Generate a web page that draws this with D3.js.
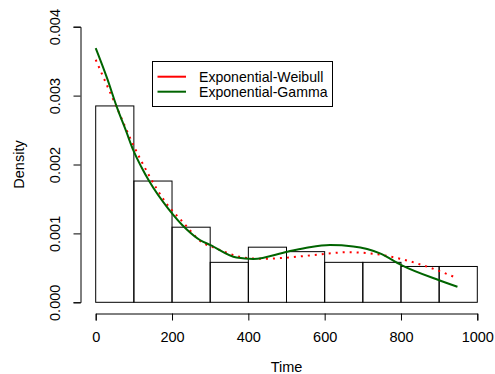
<!DOCTYPE html>
<html><head><meta charset="utf-8">
<script src="https://cdn.jsdelivr.net/npm/d3@7"></script>
<style>body{margin:0;background:#fff}svg{display:block}text{font-family:"Liberation Sans",Arial,sans-serif;fill:#000}</style>
</head><body><svg id="c" width="495" height="374"></svg>
<script>
const binEdges = [0,100,200,300,400,500,600,700,800,900,1000];
const binDensity = [0.00285,0.00176,0.00109,0.00058,0.00080,0.000735,0.00058,0.00058,0.00052,0.00052];
const xTicks = [0,200,400,600,800,1000];
const yTicks = [0.000,0.001,0.002,0.003,0.004];
const seriesNames = ["Exponential-Weibull","Exponential-Gamma"];
const seriesColors = ["#ff0000","#006400"];
// Exponential-Weibull (dotted red)
const ewTime = [0,55,99,138,182,230,273,321,378,439,500,579,658,719,797,876,946];
const ewDens = [0.00352,0.00283,0.00228,0.00186,0.00146,0.001155,0.000894,0.00077,0.00066,0.00063,0.000648,0.00069,0.000726,0.00071,0.000633,0.000503,0.000353];
// Exponential-Gamma (solid green)
const egTime = [0,30,55,80,99,120,140,190,238,273,301,369,413,502,560,614,675,745,801,900,948];
const egDens = [0.00369,0.00325,0.00284,0.00248,0.00220,0.00196,0.00176,0.00136,0.00106,0.000904,0.00083,0.00065,0.00063,0.000735,0.0008,0.00083,0.00081,0.00071,0.00054,0.00032,0.000226];

const FS = 14.5;
const svg = d3.select("#c");
const x = d3.scaleLinear().domain([0,1000]).range([95.7,477.3]);
const y = d3.scaleLinear().domain([0,0.004]).range([302.3,26.7]);

// histogram
svg.append("g").selectAll("rect").data(binDensity).join("rect")
  .attr("x",(d,i)=>x(binEdges[i])).attr("width",(d,i)=>x(binEdges[i+1])-x(binEdges[i]))
  .attr("y",d=>y(d)).attr("height",d=>y(0)-y(d))
  .attr("fill","none").attr("stroke","#000").attr("stroke-width",1);

const line = d3.line().curve(d3.curveMonotoneX);
svg.append("path").attr("d",line(ewTime.map((t,i)=>[x(t),y(ewDens[i])])))
  .attr("fill","none").attr("stroke",seriesColors[0]).attr("stroke-width",2).attr("stroke-dasharray","2 5");
svg.append("path").attr("d",line(egTime.map((t,i)=>[x(t),y(egDens[i])])))
  .attr("fill","none").attr("stroke",seriesColors[1]).attr("stroke-width",2);

// axes
const xAxis = svg.append("g").attr("transform","translate(0,313.5)")
  .call(d3.axisBottom(x).tickValues(xTicks).tickSize(7).tickPadding(0).tickFormat(d3.format("d")));
const yAxis = svg.append("g").attr("transform","translate(80.5,0)")
  .call(d3.axisLeft(y).tickValues(yTicks).tickSize(7).tickPadding(0).tickFormat(d3.format(".3f")));
[xAxis,yAxis].forEach(a=>{a.select(".domain").attr("stroke","#000");a.selectAll(".tick line").attr("stroke","#000");
  a.selectAll("text").attr("font-size",FS).attr("font-family","Liberation Sans, Arial, sans-serif").attr("fill","#000");});
xAxis.selectAll(".tick text").attr("y",28).attr("dy","0");
yAxis.selectAll(".tick text").each(function(){
  d3.select(this).attr("transform","translate(-20.5,0) rotate(-90)").attr("x",0).attr("y",0).attr("dy","0").attr("text-anchor","middle");
});

svg.append("text").attr("x",x(500)).attr("y",371.5).attr("text-anchor","middle").attr("font-size",FS).text("Time");
svg.append("text").attr("transform","translate(24,"+y(0.002)+") rotate(-90)").attr("text-anchor","middle").attr("font-size",FS).text("Density");

// legend
const lg = svg.append("g");
lg.append("rect").attr("x",152.5).attr("y",61.5).attr("width",180).attr("height",45).attr("fill","#fff").attr("stroke","#000");
seriesNames.forEach((n,i)=>{
  const yy = 76.7+i*15;
  lg.append("line").attr("x1",157.5).attr("x2",186).attr("y1",yy).attr("y2",yy).attr("stroke",seriesColors[i]).attr("stroke-width",2);
  lg.append("text").attr("x",199).attr("y",yy+5).attr("font-size",14.1).text(n);
});
</script></body></html>
